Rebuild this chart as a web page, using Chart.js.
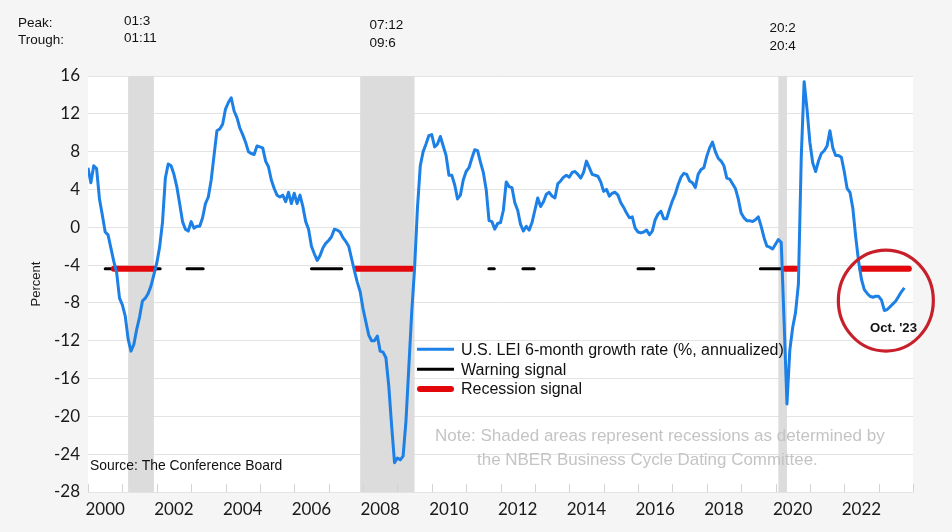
<!DOCTYPE html>
<html><head><meta charset="utf-8">
<script src="https://cdn.jsdelivr.net/npm/chart.js@4.4.0/dist/chart.umd.min.js"></script>
<style>html,body{margin:0;padding:0;background:#f5f5f5;}#wrap{width:952px;height:532px;position:relative;}</style>
</head><body><div id="wrap"><canvas id="c" width="952" height="532"></canvas></div>
<script>
// ---------------- DATA ----------------
const startYear = 2000; // first monthly observation: Jan 2000
const leiValues = [
  6.3, 4.7, 6.5, 6.2, 3.0, 1.3, -0.5, -0.8, -2.2, -3.6, -4.8, -7.5,
  -8.2, -9.4, -11.8, -13.1, -12.4, -10.8, -9.5, -7.8, -7.5, -7.0, -6.2, -5.0,
  -3.8, -2.1, 0.5, 5.2, 6.7, 6.5, 5.6, 4.3, 2.5, 0.6, -0.2, -0.4,
  0.6, -0.1, 0.1, 0.1, 1.0, 2.5, 3.2, 5.0, 7.6, 10.2, 10.4, 10.9,
  12.5, 13.2, 13.7, 12.3, 11.6, 10.5, 9.8, 9.0, 8.0, 7.8, 7.7, 8.6,
  8.5, 8.4, 7.0, 6.4, 5.0, 4.1, 3.4, 3.2, 3.4, 2.7, 3.7, 2.5,
  3.6, 2.5, 3.4, 2.2, 0.6, -0.2, -2.0, -2.8, -3.5, -3.0, -2.2, -1.7,
  -1.4, -1.0, -0.2, -0.3, -0.5, -1.1, -1.5, -2.0, -3.3, -4.6, -5.8, -6.8,
  -8.6, -10.0, -11.4, -12.0, -12.0, -11.5, -13.1, -13.2, -13.8, -16.8, -21.0, -24.9,
  -24.4, -24.6, -24.2, -20.5, -14.8, -9.0, -4.4, 2.0, 6.5, 8.0, 8.8, 9.7,
  9.8, 8.5, 8.8, 9.6, 8.6, 7.6, 5.5, 5.5, 4.5, 3.0, 3.4, 5.0,
  5.9, 6.3, 7.3, 8.2, 8.1, 6.9, 5.8, 4.0, 0.7, 0.6, -0.2, 0.4,
  0.5, 1.8, 4.8, 4.3, 4.2, 2.6, 1.8, 0.3, -0.4, 0.1, -0.3, 0.5,
  1.8, 3.1, 2.2, 2.7, 3.5, 3.7, 3.3, 3.1, 4.6, 4.9, 5.3, 5.5,
  5.3, 5.8, 5.9, 5.6, 5.2, 5.8, 7.0, 6.3, 5.6, 5.5, 5.4, 4.8,
  3.8, 4.0, 3.3, 3.6, 3.7, 3.4, 2.6, 2.1, 1.5, 1.0, 1.1, -0.1,
  -0.5, -0.6, -0.5, -0.3, -0.8, -0.4, 0.8, 1.4, 1.7, 0.9, 0.9, 1.9,
  2.8, 3.5, 4.5, 5.3, 5.7, 5.6, 4.9, 4.7, 4.2, 5.6, 6.1, 6.3,
  7.5, 8.4, 9.0, 8.0, 7.3, 7.0, 6.5, 5.2, 5.1, 4.6, 4.1, 3.0,
  1.5, 1.0, 0.7, 0.7, 0.6, 0.8, 1.1, 0.1, -1.1, -2.0, -2.1, -2.3,
  -1.8, -1.3, -1.6, -10.0, -18.7, -13.0, -10.6, -9.0, -6.0, 7.5, 15.4, 12.5,
  9.0, 6.8, 5.9, 7.0, 7.8, 8.1, 8.6, 10.2, 8.4, 7.6, 7.6, 7.4,
  5.9, 4.1, 3.7, 2.0, -1.0, -3.6, -5.5, -6.6, -7.0, -7.3, -7.4, -7.3,
  -7.3, -7.7, -8.8, -8.7, -8.4, -8.1, -7.8, -7.3, -6.8, -6.4
];
const signalLevel = -4.4;
const warningPeriods = [[2000.5, 2002.1], [2002.88, 2003.35], [2006.5, 2007.38], [2011.66, 2011.82], [2012.65, 2012.98], [2016.0, 2016.46], [2019.56, 2020.25]];
const recessionSignalPeriods = [[2000.75, 2001.92], [2007.8, 2009.42], [2020.28, 2020.6], [2022.5, 2023.88]];
const recessions = [[2001.167, 2001.917], [2007.917, 2009.5], [2020.083, 2020.333]];
const recessionPeaks = ['01:3', '07:12', '20:2'];
const recessionTroughs = ['01:11', '09:6', '20:4'];
const xTickLabels = ['2000','2002','2004','2006','2008','2010','2012','2014','2016','2018','2020','2022'];
const yTickValues = [16, 12, 8, 4, 0, -4, -8, -12, -16, -20, -24, -28];
const seriesLabels = ['U.S. LEI 6-month growth rate (%, annualized)', 'Warning signal', 'Recession signal'];

// ---------------- BUILD ----------------
const FF = "'Liberation Sans', Arial, sans-serif";
const leiPoints = leiValues.map((v, i) => ({x: startYear + i / 12, y: v}));
function segs(periods) {
  const out = [];
  periods.forEach(([a, b]) => { out.push({x: a, y: signalLevel}, {x: b, y: signalLevel}, {x: b, y: null}); });
  return out;
}

function fitText(ctx, s, x, y, width, weight, color) {
  ctx.font = `${weight} 20px ${FF}`;
  const w = ctx.measureText(s).width;
  ctx.font = `${weight} ${20 * width / w}px ${FF}`;
  ctx.fillStyle = color;
  ctx.fillText(s, x, y);
}
function text(ctx, s, x, y, size, color, weight) {
  ctx.font = `${weight || 'normal'} ${size}px ${FF}`;
  ctx.fillStyle = color;
  ctx.fillText(s, x, y);
}

const deco = {
  id: 'deco',
  beforeDraw(chart) {
    const {ctx, chartArea: a} = chart;
    ctx.save();
    ctx.fillStyle = '#f5f5f5'; ctx.fillRect(0, 0, chart.width, chart.height);
    ctx.fillStyle = '#ffffff'; ctx.fillRect(a.left, a.top, a.right - a.left, a.bottom - a.top);
    ctx.restore();
  },
  beforeDatasetsDraw(chart) {
    const {ctx, chartArea: a, scales: {x}} = chart;
    ctx.save();
    ctx.fillStyle = '#dcdcdc';
    recessions.forEach(([s, e]) => {
      const x0 = x.getPixelForValue(s), x1 = x.getPixelForValue(e);
      ctx.fillRect(x0, a.top, x1 - x0, a.bottom - a.top);
    });
    ctx.strokeStyle = '#d2d2d2'; ctx.lineWidth = 1;
    for (let yr = x.min; yr <= x.max; yr++) {
      const px = Math.round(x.getPixelForValue(yr)) + 0.5;
      ctx.beginPath(); ctx.moveTo(px, a.bottom - 8); ctx.lineTo(px, a.bottom); ctx.stroke();
    }
    ctx.restore();
  },
  afterDraw(chart) {
    const {ctx, scales: {x, y}} = chart;
    ctx.save();
    ctx.textBaseline = 'alphabetic'; ctx.textAlign = 'left';
    // header
    text(ctx, 'Peak:', 18, 26.5, 13.5, '#111');
    text(ctx, 'Trough:', 18, 44, 13.5, '#111');
    const hx = [124, 369.5, 769.5], hy = [24.7, 29, 32.3];
    recessionPeaks.forEach((p, i) => {
      text(ctx, p, hx[i], hy[i], 13.5, '#111');
      text(ctx, recessionTroughs[i], hx[i], hy[i] + 17.5, 13.5, '#111');
    });
    // legend
    const ds = chart.data.datasets;
    const ly = [349.3, 369.3, 389];
    ds.forEach((d, i) => {
      ctx.strokeStyle = d.borderColor; ctx.lineWidth = d.borderWidth; ctx.lineCap = i === 2 ? 'round' : 'butt';
      ctx.beginPath(); ctx.moveTo(i === 2 ? 420 : 417, ly[i]); ctx.lineTo(i === 2 ? 451 : 454, ly[i]); ctx.stroke();
      text(ctx, d.label, 461, ly[i] + 5.3, 16, '#111');
    });
    // note + source
    fitText(ctx, 'Note: Shaded areas represent recessions as determined by', 435, 441, 450, 'normal', '#c4c4c4');
    fitText(ctx, 'the NBER Business Cycle Dating Committee.', 477, 464.5, 341, 'normal', '#c4c4c4');
    fitText(ctx, 'Source: The Conference Board', 90, 470, 192.5, 'normal', '#111');
    // circle
    ctx.strokeStyle = '#c8202b'; ctx.lineWidth = 3.2;
    ctx.beginPath();
    ctx.ellipse(x.getPixelForValue(2023.21), y.getPixelForValue(-7.75), 47.5, 50.5, 0, 0, Math.PI * 2);
    ctx.stroke();
    fitText(ctx, "Oct. '23", 870, 331.7, 47, 'bold', '#111');
    ctx.restore();
  }
};

new Chart(document.getElementById('c'), {
  type: 'line',
  data: {
    datasets: [
      {label: seriesLabels[0], data: leiPoints, borderColor: '#1c80e6', borderWidth: 3, pointRadius: 0, tension: 0, order: 0, borderJoinStyle: 'round'},
      {label: seriesLabels[1], data: segs(warningPeriods), borderColor: '#000000', borderWidth: 3, pointRadius: 0, spanGaps: false, order: 2, borderCapStyle: 'round'},
      {label: seriesLabels[2], data: segs(recessionSignalPeriods), borderColor: '#e3070b', borderWidth: 6, pointRadius: 0, spanGaps: false, order: 1, borderCapStyle: 'round'}
    ]
  },
  options: {
    responsive: false, animation: false, devicePixelRatio: 1,
    layout: {padding: {top: 76, right: 39, left: 0, bottom: 0}},
    plugins: {legend: {display: false}, tooltip: {enabled: false}},
    scales: {
      x: {
        type: 'linear', min: 2000, max: 2024,
        grid: {display: false}, border: {display: false},
        afterBuildTicks: s => { s.ticks = xTickLabels.map(l => ({value: Number(l) + 0.5})); },
        afterFit: s => { s.height = 40; },
        ticks: {autoSkip: false, maxRotation: 0, padding: -1, color: '#1a1a1a', font: {family: 'Lato', size: 17},
                callback: (v, i) => xTickLabels[i]}
      },
      y: {
        min: -28, max: 16,
        afterBuildTicks: s => { s.ticks = yTickValues.map(v => ({value: v})); },
        afterFit: s => { s.width = 88; },
        grid: {color: '#e3e3e3', drawTicks: false, lineWidth: 1}, border: {display: false},
        ticks: {padding: 8, color: '#1a1a1a', font: {family: 'Lato', size: 17}},
        title: {display: true, text: 'Percent', color: '#1a1a1a', font: {family: 'Liberation Sans', size: 13}, padding: {top: 29, bottom: 0}}
      }
    }
  },
  plugins: [deco]
});
</script></body></html>
